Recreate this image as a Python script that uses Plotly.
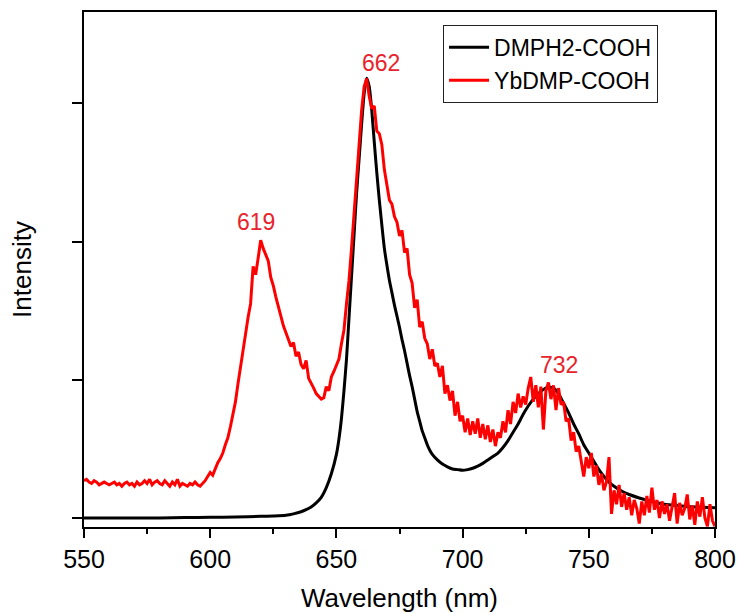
import plotly.graph_objects as go

# Black curve: DMPH2-COOH (wavelength nm, intensity a.u.)
black_x = [550, 560, 570, 580, 590, 600, 610, 620, 625, 630, 633, 636, 638, 640, 642, 644, 646, 648,
           650, 651, 652, 653, 654, 655, 656, 657, 658, 659, 660, 661, 662, 663, 664, 665, 666, 667,
           668, 669, 670, 671, 672, 673, 674, 675, 676, 677, 678, 679, 680, 681, 682, 683, 684, 685,
           686, 687, 688, 690, 692, 694, 696, 698, 700, 702, 704, 706, 708, 710, 712, 714, 716, 718,
           720, 722, 724, 726, 728, 730, 732, 734, 736, 738, 740, 742, 744, 746, 748, 750, 752, 754,
           756, 758, 760, 763, 766, 770, 775, 780, 785, 790, 795, 800]
black_y = [0.0, 0.0, 0.0, 0.0, 0.003, 0.005, 0.008, 0.012, 0.015, 0.02, 0.03, 0.045, 0.06, 0.08, 0.11,
           0.15, 0.22, 0.32, 0.46, 0.57, 0.72, 0.92, 1.15, 1.45, 1.75, 2.05, 2.35, 2.6, 2.85, 3.07, 3.18,
           3.12, 2.95, 2.72, 2.5, 2.3, 2.12, 1.95, 1.83, 1.72, 1.63, 1.54, 1.46, 1.38, 1.29, 1.21, 1.12,
           1.03, 0.95, 0.86, 0.77, 0.70, 0.63, 0.58, 0.53, 0.49, 0.46, 0.42, 0.39, 0.37, 0.355, 0.35,
           0.345, 0.35, 0.36, 0.375, 0.395, 0.42, 0.445, 0.47, 0.51, 0.56, 0.62, 0.68, 0.75, 0.81, 0.86,
           0.90, 0.93, 0.945, 0.94, 0.90, 0.83, 0.76, 0.68, 0.61, 0.53, 0.47, 0.41, 0.35, 0.30, 0.26,
           0.23, 0.195, 0.17, 0.145, 0.12, 0.10, 0.09, 0.082, 0.077, 0.074]

# Red curve: YbDMP-COOH, sampled every 1 nm from 550 to 800
red_x = list(range(550, 801))
red_y = [
    0.27, 0.28, 0.26, 0.25, 0.27, 0.26, 0.24, 0.25, 0.26, 0.25,
    0.24, 0.25, 0.26, 0.24, 0.25, 0.23, 0.25, 0.26, 0.24, 0.25,
    0.23, 0.26, 0.24, 0.25, 0.27, 0.25, 0.28, 0.24, 0.26, 0.27,
    0.25, 0.24, 0.27, 0.25, 0.23, 0.26, 0.24, 0.28, 0.23, 0.25,
    0.24, 0.23, 0.25, 0.24, 0.26, 0.24, 0.23, 0.25, 0.27, 0.30,
    0.33, 0.31, 0.36, 0.40, 0.43, 0.47, 0.53, 0.58, 0.66, 0.76,
    0.84, 0.97, 1.08, 1.20, 1.33, 1.45, 1.55, 1.82, 1.76, 1.88,
    2.01, 1.95, 1.90, 1.86, 1.74, 1.68, 1.60, 1.52, 1.46, 1.39,
    1.34, 1.30, 1.24, 1.27, 1.17, 1.20, 1.11, 1.08, 1.14, 1.01,
    0.98, 0.94, 0.90, 0.88, 0.86, 0.87, 0.95, 0.92, 1.02, 1.06,
    1.10, 1.15, 1.26, 1.36, 1.55, 1.72, 1.95, 2.20, 2.45, 2.70,
    2.95, 3.12, 3.18, 3.05, 2.96, 2.98, 2.80, 2.78, 2.70, 2.52,
    2.40, 2.30, 2.27, 2.18, 2.14, 2.04, 2.08, 1.92, 1.95, 1.76,
    1.70, 1.52, 1.58, 1.38, 1.42, 1.30, 1.26, 1.15, 1.22, 1.10,
    1.12, 1.02, 1.10, 0.90, 0.96, 0.85, 0.92, 0.74, 0.84, 0.70,
    0.74, 0.62, 0.72, 0.60, 0.70, 0.61, 0.72, 0.58, 0.68, 0.57,
    0.67, 0.55, 0.64, 0.52, 0.62, 0.58, 0.70, 0.62, 0.78, 0.68,
    0.84, 0.76, 0.90, 0.80, 0.88, 0.82, 0.94, 1.02, 0.84, 0.96,
    0.80, 0.95, 0.64, 0.92, 0.98, 0.86, 0.96, 0.78, 0.94, 0.82,
    0.84, 0.70, 0.72, 0.56, 0.62, 0.48, 0.52, 0.40, 0.30, 0.44,
    0.36, 0.47, 0.30, 0.38, 0.24, 0.32, 0.20, 0.26, 0.44, 0.03,
    0.20, 0.10, 0.24, 0.08, 0.18, 0.06, 0.15, 0.02, 0.13, 0.07,
    -0.04, 0.12, 0.02, 0.16, 0.04, 0.22, 0.06, 0.13, 0.00, 0.12,
    0.03, 0.10, -0.02, 0.08, 0.18, -0.04, 0.11, 0.02, 0.07, 0.17,
    -0.01, 0.09, -0.05, 0.12, 0.01, 0.15, 0.00, -0.06, 0.10, -0.02,
    -0.06,
]

peak_label_x = [618, 667.5, 738]
peak_label_y = [2.14, 3.29, 1.11]
peak_labels = ["619", "662", "732"]

x_ticks = [550, 600, 650, 700, 750, 800]
y_ticks = [0, 1, 2, 3]

FONT = "Arial, 'Liberation Sans', sans-serif"
RED = "#ff0000"
LABEL_RED = "#e8232b"

fig = go.Figure()
fig.add_trace(go.Scatter(x=black_x, y=black_y, mode="lines", name="DMPH2-COOH",
                         line=dict(color="black", width=3, shape="spline", smoothing=0.6)))
fig.add_trace(go.Scatter(x=red_x, y=red_y, mode="lines", name="YbDMP-COOH",
                         line=dict(color=RED, width=3)))

for lx, ly, t in zip(peak_label_x, peak_label_y, peak_labels):
    fig.add_annotation(x=lx, y=ly, text=t, showarrow=False, xanchor="center", yanchor="middle",
                       font=dict(family=FONT, size=23, color=LABEL_RED))

fig.update_layout(
    width=739, height=613,
    margin=dict(l=84, r=24, t=12, b=86),
    paper_bgcolor="white", plot_bgcolor="white",
    font=dict(family=FONT, color="black"),
    showlegend=True,
    legend=dict(x=0.569, y=0.975, xanchor="left", yanchor="top",
                bgcolor="white", bordercolor="#222", borderwidth=1,
                font=dict(family=FONT, size=23, color="black"),
                tracegroupgap=0, itemwidth=40),
    xaxis=dict(range=[550, 800], tickvals=x_ticks, ticks="outside", ticklen=9, tickwidth=1.5,
               tickcolor="black", showline=True, linecolor="black", linewidth=1.5, mirror=True,
               showgrid=False, zeroline=False, automargin=False,
               tickfont=dict(family=FONT, size=25, color="black"),
               minor=dict(dtick=25, tick0=550, ticks="outside", ticklen=5, tickwidth=1.5,
                          tickcolor="black", showgrid=False),
               title=dict(text="Wavelength (nm)", font=dict(family=FONT, size=26, color="black"),
                          standoff=22)),
    yaxis=dict(range=[-0.065, 3.66], tickvals=y_ticks, showticklabels=False, ticks="outside",
               ticklen=10, tickwidth=1.5, tickcolor="black", showline=True, linecolor="black",
               linewidth=1.5, mirror=True, showgrid=False, zeroline=False, automargin=False,
               title=dict(text="Intensity", font=dict(family=FONT, size=26, color="black"),
                          standoff=33)),
)

# remove the default page margin so the 739x613 figure fills the window exactly
fig.write_html("out.html", config={"displayModeBar": False},
               post_script="document.body.style.margin='0';document.body.style.overflow='hidden';")
